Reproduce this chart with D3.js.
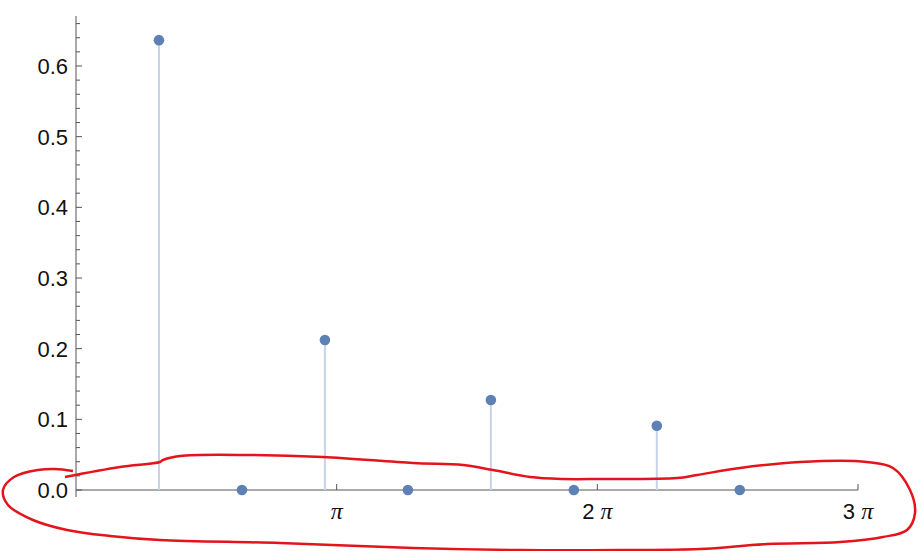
<!DOCTYPE html>
<html><head><meta charset="utf-8">
<script src="https://cdn.jsdelivr.net/npm/d3@7"></script>
<style>body{margin:0;background:#fff}svg{display:block}text{font-family:"Liberation Sans",Arial,sans-serif}</style>
</head><body>
<script>
// data
const nValues = [1, 2, 3, 4, 5, 6, 7, 8];
const yValues = [0.6366, 0, 0.2122, 0, 0.1273, 0, 0.0909, 0];
const xTickMultiples = [1, 2, 3];
const xTickLabels = ["π", "2 π", "3 π"];
const yTickValues = [0, 0.1, 0.2, 0.3, 0.4, 0.5, 0.6];
const yTickLabels = ["0.0", "0.1", "0.2", "0.3", "0.4", "0.5", "0.6"];
// hand-drawn red annotation (pixel coordinates)
const scribbleA = [[73,471],[55,469],[38,470],[14,477],[3,490],[8,505],[33,520],[67,530],[110,536],[160,540],[280,543],[413,548],[520,550],[620,550],[700,549],[767,544],[840,542],[883,537],[907,530],[915,513],[910,490],[893,468],[867,462],[800,462],[740,468],[697,475],[677,478],[600,479],[563,479],[530,477],[493,470],[463,465],[413,463],[323,457],[250,455],[180,456],[163,460],[160,462],[120,467],[65,477]];

const W = 918, H = 551;
const svg = d3.select("body").append("svg").attr("width", W).attr("height", H);
const x = d3.scaleLinear().domain([0, 3 * Math.PI]).range([76, 858]);
const y = d3.scaleLinear().domain([0, 0.6]).range([490, 66]);

// y axis
const ax = "#555";
svg.append("line").attr("x1", 76).attr("x2", 76).attr("y1", 16).attr("y2", 497).attr("stroke", ax).attr("stroke-width", 1);
const minor = d3.range(0, 68).map(i => i * 0.01).filter((v, i) => i % 2 === 0);
svg.selectAll(".ymin").data(minor).enter().append("line")
  .attr("x1", 76).attr("x2", d => (Math.round(d * 100) % 10 === 0) ? 82 : 80)
  .attr("y1", d => y(d)).attr("y2", d => y(d)).attr("stroke", ax).attr("stroke-width", 1);
svg.selectAll(".ylab").data(yTickValues).enter().append("text")
  .attr("x", 68).attr("y", d => y(d) + 8).attr("text-anchor", "end")
  .attr("font-size", 22).attr("fill", "#111").text((d, i) => yTickLabels[i]);

// x axis
svg.append("line").attr("x1", 76).attr("x2", x(3 * Math.PI)).attr("y1", 490).attr("y2", 490).attr("stroke", ax).attr("stroke-width", 1);
svg.selectAll(".xt").data(xTickMultiples).enter().append("line")
  .attr("x1", d => x(d * Math.PI)).attr("x2", d => x(d * Math.PI))
  .attr("y1", 490).attr("y2", 484).attr("stroke", ax).attr("stroke-width", 1);
const xl = svg.selectAll(".xl").data(xTickMultiples).enter().append("text")
  .attr("x", d => x(d * Math.PI)).attr("y", 519).attr("text-anchor", "middle")
  .attr("font-size", 22).attr("fill", "#111");
xl.each(function(d, i) {
  const t = d3.select(this);
  if (d > 1) t.append("tspan").text(d + " ");
  t.append("tspan").attr("font-style", "italic").attr("font-family", "'Liberation Serif','DejaVu Serif',serif").attr("font-size", 24).text("π");
});

// stems
svg.selectAll(".stem").data(nValues).enter().append("line")
  .attr("x1", d => x(d)).attr("x2", d => x(d))
  .attr("y1", y(0)).attr("y2", (d, i) => y(yValues[i]))
  .attr("stroke", "#c6d3e8").attr("stroke-width", 2);
// points
svg.selectAll(".pt").data(nValues).enter().append("circle")
  .attr("cx", d => x(d)).attr("cy", (d, i) => y(yValues[i]))
  .attr("r", 5.3).attr("fill", "#5e81b5");

// red scribble
svg.append("path").attr("d", d3.line().curve(d3.curveCatmullRom)(scribbleA))
  .attr("fill", "none").attr("stroke", "#e3141b").attr("stroke-width", 2.5);
</script>
</body></html>
